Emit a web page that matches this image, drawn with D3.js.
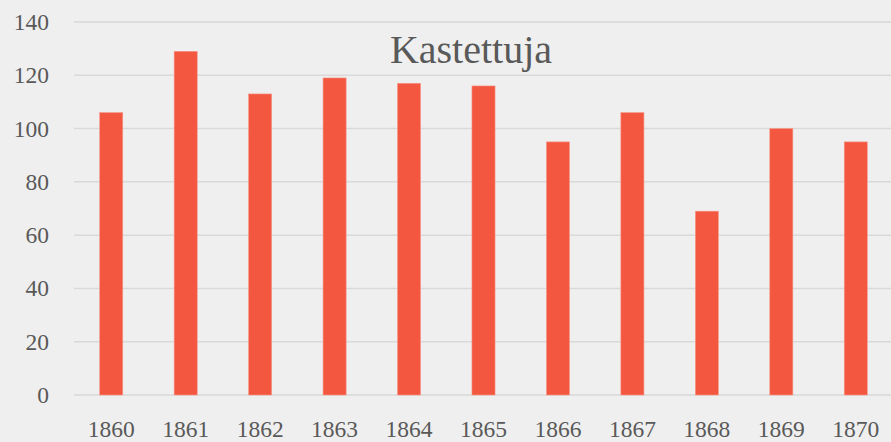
<!DOCTYPE html>
<html>
<head>
<meta charset="utf-8">
<script src="https://cdn.jsdelivr.net/npm/d3@7"></script>
<style>
  body { margin: 0; background: #efefef; }
  text { font-family: "Liberation Serif", serif; fill: #595959; }
</style>
</head>
<body>
<div id="chart"></div>
<script>
// Data
var years = ["1860", "1861", "1862", "1863", "1864", "1865", "1866", "1867", "1868", "1869", "1870"];
var baptized = [106, 129, 113, 119, 117, 116, 95, 106, 69, 100, 95];
var yTicks = [0, 20, 40, 60, 80, 100, 120, 140];
var title = "Kastettuja";

var width = 891;
var height = 442;
var plotLeft = 74;
var plotRight = 893;
var plotTop = 22;
var plotBottom = 395;

var svg = d3.select("#chart")
    .append("svg")
    .attr("width", width)
    .attr("height", height);

svg.append("rect")
    .attr("width", width)
    .attr("height", height)
    .attr("fill", "#efefef");

var xScale = d3.scaleBand()
    .domain(years)
    .range([plotLeft, plotRight])
    .paddingInner(0.69)
    .paddingOuter(0.345);

var yScale = d3.scaleLinear()
    .domain([0, 140])
    .range([plotBottom, plotTop]);

// gridlines
svg.append("g")
    .selectAll("line")
    .data(yTicks)
    .enter()
    .append("line")
    .attr("x1", plotLeft)
    .attr("x2", width)
    .attr("y1", function(d) { return yScale(d); })
    .attr("y2", function(d) { return yScale(d); })
    .attr("stroke", "#d9d9d9")
    .attr("stroke-width", 1.5);

// y tick labels
svg.append("g")
    .selectAll("text")
    .data(yTicks)
    .enter()
    .append("text")
    .attr("x", 49)
    .attr("y", function(d) { return yScale(d) + 8; })
    .attr("text-anchor", "end")
    .attr("font-size", 23.5)
    .text(function(d) { return d; });

// bars
svg.append("g")
    .selectAll("rect")
    .data(baptized)
    .enter()
    .append("rect")
    .attr("x", function(d, i) { return xScale(years[i]); })
    .attr("y", function(d) { return yScale(d); })
    .attr("width", xScale.bandwidth())
    .attr("height", function(d) { return plotBottom - yScale(d); })
    .attr("fill", "#f4573f")
    .attr("stroke", "#f7988a")
    .attr("stroke-width", 0.6);

// x labels
svg.append("g")
    .selectAll("text")
    .data(years)
    .enter()
    .append("text")
    .attr("x", function(d) { return xScale(d) + xScale.bandwidth() / 2; })
    .attr("y", 437)
    .attr("text-anchor", "middle")
    .attr("font-size", 23.5)
    .text(function(d) { return d; });

// title
svg.append("text")
    .attr("x", 471)
    .attr("y", 63)
    .attr("text-anchor", "middle")
    .attr("font-size", 40)
    .text(title);
</script>
</body>
</html>
